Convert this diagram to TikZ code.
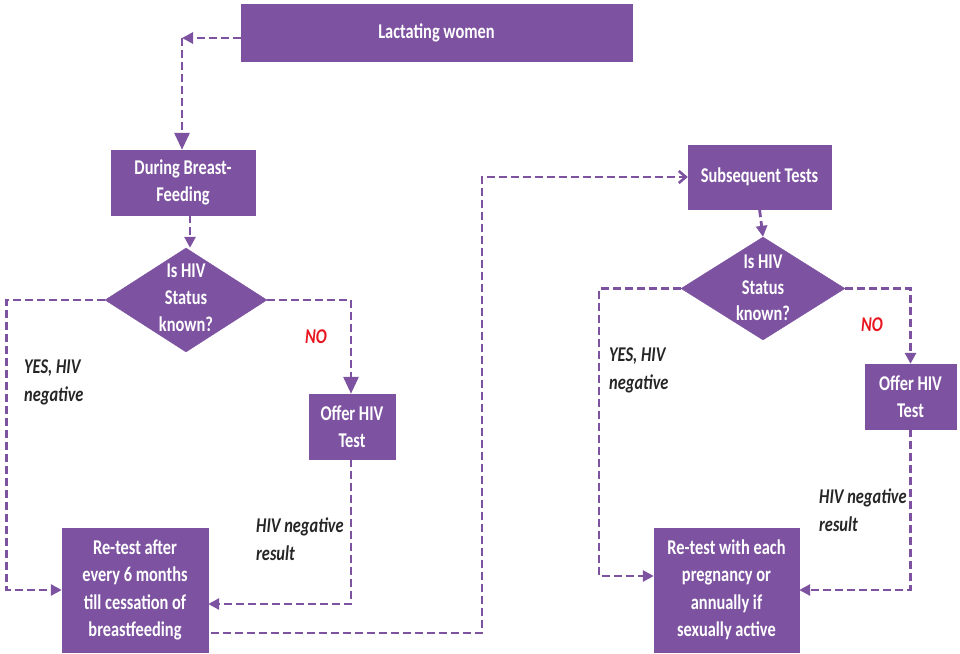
\documentclass[tikz,border=0pt]{standalone}
\usepackage{fontspec}
\setmainfont{Carlito}[FakeStretch=0.78]
\usetikzlibrary{shapes.geometric,arrows.meta,calc}
\definecolor{purp}{RGB}{125,82,160}
\definecolor{nored}{RGB}{232,20,30}
\tikzset{
  box/.style={fill=purp,draw=purp,rectangle,inner sep=0pt,align=center,text=white,font=\bfseries\fontsize{21}{27.5}\selectfont},
  dia/.style={fill=purp,draw=purp,diamond,inner sep=0pt},
  diatext/.style={align=center,text=white,inner sep=0pt,font=\bfseries\fontsize{21}{27}\selectfont},
  lbl/.style={align=left,anchor=west,inner sep=0pt,text=black!85,font=\bfseries\itshape\fontsize{21}{28}\selectfont},
  nolbl/.style={inner sep=0pt,text=nored,font=\bfseries\itshape\fontsize{21}{28}\selectfont},
  conn/.style={draw=purp,line width=2.8pt,dash pattern=on 8pt off 4pt},
  bigtip/.style={-{Triangle[length=17pt,width=15pt]}},
  smalltip/.style={-{Triangle[length=11pt,width=11pt]}},
  opentip/.style={-{Straight Barb[length=7pt,width=12pt,line width=2.6pt]}}
}
\begin{document}
\begin{tikzpicture}[x=1pt,y=-1pt]
\useasboundingbox (0,0) rectangle (960,653);
% boxes
\node[box,minimum width=391pt,minimum height=57pt] (lact) at (436.5,32.5) {Lactating women};
\node[box,minimum width=144pt,minimum height=65pt] (bf) at (183,182.5) {During Breast-\\Feeding};
\node[dia,minimum width=162pt,minimum height=104pt] (d1) at (186,300) {};
\node[diatext] (d1t) at (186,298) {Is HIV\\Status\\known?};
\node[box,minimum width=86pt,minimum height=65pt] (off1) at (352,426.5) {Offer HIV\\Test};
\node[box,minimum width=146pt,minimum height=124pt] (rt1) at (135,590) {Re-test after\\every 6 months\\till cessation of\\breastfeeding};
\node[box,minimum width=143pt,minimum height=64pt] (st) at (759.5,177) {Subsequent Tests};
\node[dia,minimum width=164pt,minimum height=103pt] (d2) at (763,288.5) {};
\node[diatext,font=\bfseries\fontsize{21}{26}\selectfont] (d2t) at (763,288) {Is HIV\\Status\\known?};
\node[box,minimum width=91pt,minimum height=65pt] (off2) at (910.5,396.5) {Offer HIV\\Test};
\node[box,minimum width=145pt,minimum height=124pt] (rt2) at (726.5,590) {Re-test with each\\pregnancy or\\annually if\\sexually active};
% labels
\node[nolbl] (no1) at (316,337) {NO};
\node[lbl] (yes1) at (24,382) {YES, HIV\\negative};
\node[lbl] (neg1) at (256,539) {HIV negative\\result};
\node[nolbl] (no2) at (872,325) {NO};
\node[lbl] (yes2) at (609,370) {YES, HIV\\negative};
\node[lbl] (neg2) at (819,510) {HIV negative\\result};
% coordinates
\coordinate (c1) at (182,38);
\coordinate (c3) at (351,604);
\coordinate (c4) at (482,633);
\coordinate (c5) at (599,576);
% connectors
\draw[conn,smalltip] (c1 -| lact.west) -- (c1);
\draw[conn,bigtip] (c1) -- (c1 |- bf.north);
\draw[conn,smalltip] ($(bf.south -| d1.north)+(4,0)$) -- ($(d1.north)+(4,0)$);
\draw[conn,smalltip] (d1.west) -- ++(-98,0) |- (rt1.west);
\draw[conn,bigtip] (d1.east) -| (c3 |- off1.north);
\draw[conn,smalltip] (c3 |- off1.south) -- (c3) -- (c3 -| rt1.east);
\draw[conn,opentip] ($(c4 -| rt1.east)+(3,0)$) -- (c4) |- (st.west);
\draw[conn,smalltip] (st.south) -- (d2.north);
\draw[conn,smalltip] (d2.west) -| (c5) -- (c5 -| rt2.west);
\draw[conn,smalltip] (d2.east) -| (off2.north);
\draw[conn,smalltip] (off2.south) |- (rt2.east);
\end{tikzpicture}
\end{document}
